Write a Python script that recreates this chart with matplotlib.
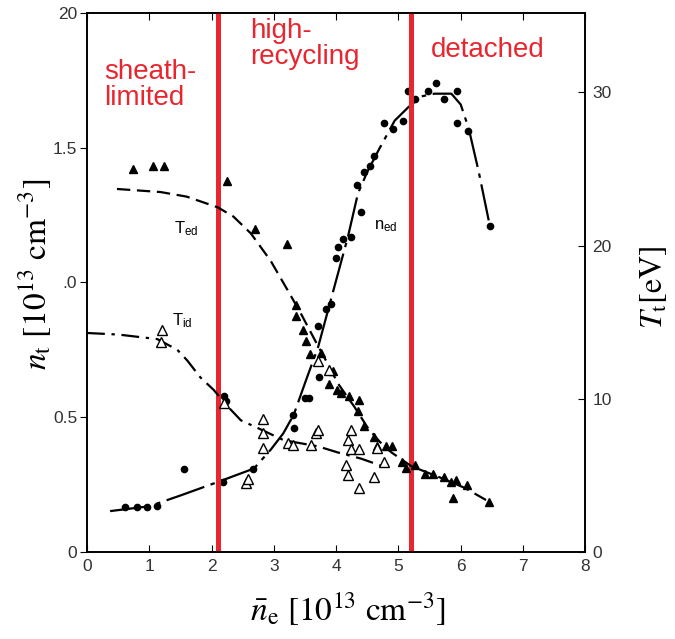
import numpy as np
import matplotlib
matplotlib.use("Agg")
import matplotlib.pyplot as plt

plt.rcParams['mathtext.fontset'] = 'stix'
plt.rcParams['font.family'] = ['Liberation Sans', 'DejaVu Sans']

# n_ed : points (x, n_t)
ned_x = [0.61, 0.80, 0.97, 1.13, 1.55, 2.19, 2.20, 2.23, 2.67, 3.30, 3.33, 3.50, 3.57,
         3.73, 3.71, 3.84, 3.92, 4.00, 4.03, 4.11, 4.24, 4.40, 4.34, 4.45, 4.55, 4.61,
         4.77, 4.92, 5.08, 5.15, 5.26, 5.47, 5.61, 5.74, 5.94, 5.94, 6.11, 6.47]
ned_y = [0.167, 0.167, 0.167, 0.17, 0.31, 0.26, 0.58, 0.56, 0.31, 0.51, 0.46, 0.57, 0.57,
         0.65, 0.84, 0.90, 0.92, 1.09, 1.13, 1.16, 1.17, 1.26, 1.36, 1.41, 1.43, 1.47,
         1.59, 1.57, 1.60, 1.71, 1.68, 1.71, 1.74, 1.68, 1.71, 1.59, 1.56, 1.21]
# n_ed fit curve
ned_cx = [0.37, 1.0, 1.5, 2.1, 2.68, 2.95, 3.15, 3.32, 3.52, 3.71, 3.92, 4.19, 4.35, 4.5,
          4.68, 4.94, 5.16, 5.37, 5.58, 5.85, 6.0, 6.13, 6.29, 6.45]
ned_cy = [0.152, 0.17, 0.21, 0.26, 0.31, 0.38, 0.44, 0.51, 0.64, 0.76, 0.94, 1.17, 1.33, 1.41,
          1.49, 1.60, 1.65, 1.69, 1.70, 1.70, 1.66, 1.57, 1.41, 1.23]

# T_ed : filled triangles (x, eV)
ted_x = [0.74, 1.06, 1.23, 2.24, 2.69, 3.21, 3.35, 3.35, 3.47, 3.52, 3.58, 3.76, 3.89,
         3.95, 4.02, 4.08, 4.20, 4.37, 4.35, 4.45, 4.61, 4.66, 4.80, 4.89, 5.05, 5.12,
         5.26, 5.42, 5.56, 5.73, 5.85, 5.93, 6.10, 5.87, 6.45]
ted_y = [25.0, 25.2, 25.2, 24.2, 21.1, 20.1, 16.1, 15.4, 14.5, 13.8, 12.9, 13.0, 11.0,
         11.8, 10.6, 10.4, 10.2, 9.9, 9.2, 8.2, 7.5, 6.9, 6.9, 6.9, 5.9, 5.5,
         5.7, 5.1, 5.1, 4.9, 4.6, 4.7, 4.4, 3.5, 3.3]
ted_cx = [0.48, 1.18, 1.6, 2.1, 2.35, 2.63, 2.95, 3.22, 3.43, 3.65, 3.85, 4.03, 4.29, 4.51,
          4.7, 4.89, 5.21, 5.65, 6.06, 6.45]
ted_cy = [23.7, 23.5, 23.2, 22.5, 21.9, 20.8, 19.0, 17.1, 15.6, 13.9, 12.4, 11.0, 9.5, 8.1,
          7.2, 6.5, 5.6, 4.9, 4.2, 3.3]

# T_id : open triangles (x, eV)
tid_x = [1.20, 1.18, 2.20, 2.55, 2.58, 2.82, 2.82, 2.82, 3.22, 3.31, 3.60, 3.68, 3.71,
         3.71, 3.89, 4.19, 4.24, 4.24, 4.37, 4.16, 4.19, 4.37, 4.60, 4.65, 4.77]
tid_y = [14.5, 13.7, 9.7, 4.5, 4.8, 8.7, 7.8, 6.8, 7.1, 7.0, 7.0, 7.8, 8.0,
         12.5, 11.9, 7.3, 8.0, 6.7, 6.7, 5.7, 5.0, 4.2, 4.9, 6.8, 5.9]
tid_cx = [0.0, 0.5, 1.13, 1.45, 1.61, 1.82, 2.03, 2.26, 2.47, 2.74, 3.16, 3.71, 4.03, 4.4, 4.75]
tid_cy = [14.3, 14.2, 13.9, 13.2, 12.5, 11.4, 10.6, 9.5, 8.6, 8.1, 7.3, 6.9, 6.5, 6.1, 5.6]

regime_x = [2.1, 5.2]
xticks = [0, 1, 2, 3, 4, 5, 6, 7, 8]
yticks = [0, 0.5, 1.0, 1.5, 2.0]
ytick_labels = ['0', '0.5', '.0', '1.5', '20']
rticks = [0, 10, 20, 30]

red = '#e8262f'
tickcol = '#333333'

fig = plt.figure(figsize=(6.75, 6.39), dpi=100)
ax = fig.add_axes([0.129, 0.136, 0.738, 0.844])
ax2 = ax.twinx()

ax.set_xlim(0, 8)
ax.set_ylim(0, 2.0)
ax2.set_ylim(0, 35.2)

# curves
ax.plot(ned_cx, ned_cy, color='black', lw=1.6, ls=(0, (18, 3, 2, 3)))
ax2.plot(ted_cx, ted_cy, color='black', lw=1.6, ls=(0, (6, 3)))
ax2.plot(tid_cx, tid_cy, color='black', lw=1.6, ls=(0, (8, 3, 1.5, 3)))

# points
ax.plot(ned_x, ned_y, 'o', color='black', ms=4.5, ls='none')
ax2.plot(ted_x, ted_y, '^', color='black', ms=5.5, ls='none')
ax2.plot(tid_x, tid_y, '^', mfc='white', mec='black', mew=1.0, ms=6.5, ls='none')

# curve labels
ax.text(1.39, 1.20, r'$\mathregular{T_{ed}}$', fontsize=12, va='center')
ax.text(1.37, 0.86, r'$\mathregular{T_{id}}$', fontsize=12, va='center')
ax.text(4.61, 1.21, r'$\mathregular{n_{ed}}$', fontsize=12, va='center')

# regime lines and labels
for xv in regime_x:
    ax.axvline(xv, color=red, lw=3.6, zorder=5)
ax.text(0.27, 1.83, 'sheath-\nlimited', color=red, fontsize=20, va='top',
        linespacing=1.0)
ax.text(2.62, 1.98, 'high-\nrecycling', color=red, fontsize=20, va='top',
        linespacing=1.0)
ax.text(5.52, 1.91, 'detached', color=red, fontsize=20, va='top')

# ticks
ax.set_xticks(xticks)
ax.set_yticks(yticks)
ax.set_yticklabels(ytick_labels)
ax2.set_yticks(rticks)
ax.tick_params(axis='x', direction='in', top=True, length=5, labelsize=12.5,
               colors='black', labelcolor=tickcol, pad=5)
ax.tick_params(axis='y', direction='out', length=5, labelsize=12.5,
               labelcolor=tickcol, pad=2)
ax2.tick_params(axis='y', direction='in', length=5, labelsize=12.5,
                labelcolor=tickcol, pad=5)
for a in (ax, ax2):
    for s in a.spines.values():
        s.set_linewidth(1.2)

ax.set_xlabel(r'$\bar{n}_{\mathrm{e}}\ [10^{13}\ \mathrm{cm}^{-3}]$', fontsize=24)
ax.set_ylabel(r'$n_{\mathrm{t}}\ [10^{13}\ \mathrm{cm}^{-3}]$', fontsize=24)
ax2.set_ylabel(r'$T_{\mathrm{t}}[\mathrm{eV}]$', fontsize=23)
ax.xaxis.set_label_coords(0.524, -0.072)
ax.yaxis.set_label_coords(-0.066, 0.515)
ax2.yaxis.set_label_coords(1.106, 0.49)

fig.savefig('out.png', dpi=100)
